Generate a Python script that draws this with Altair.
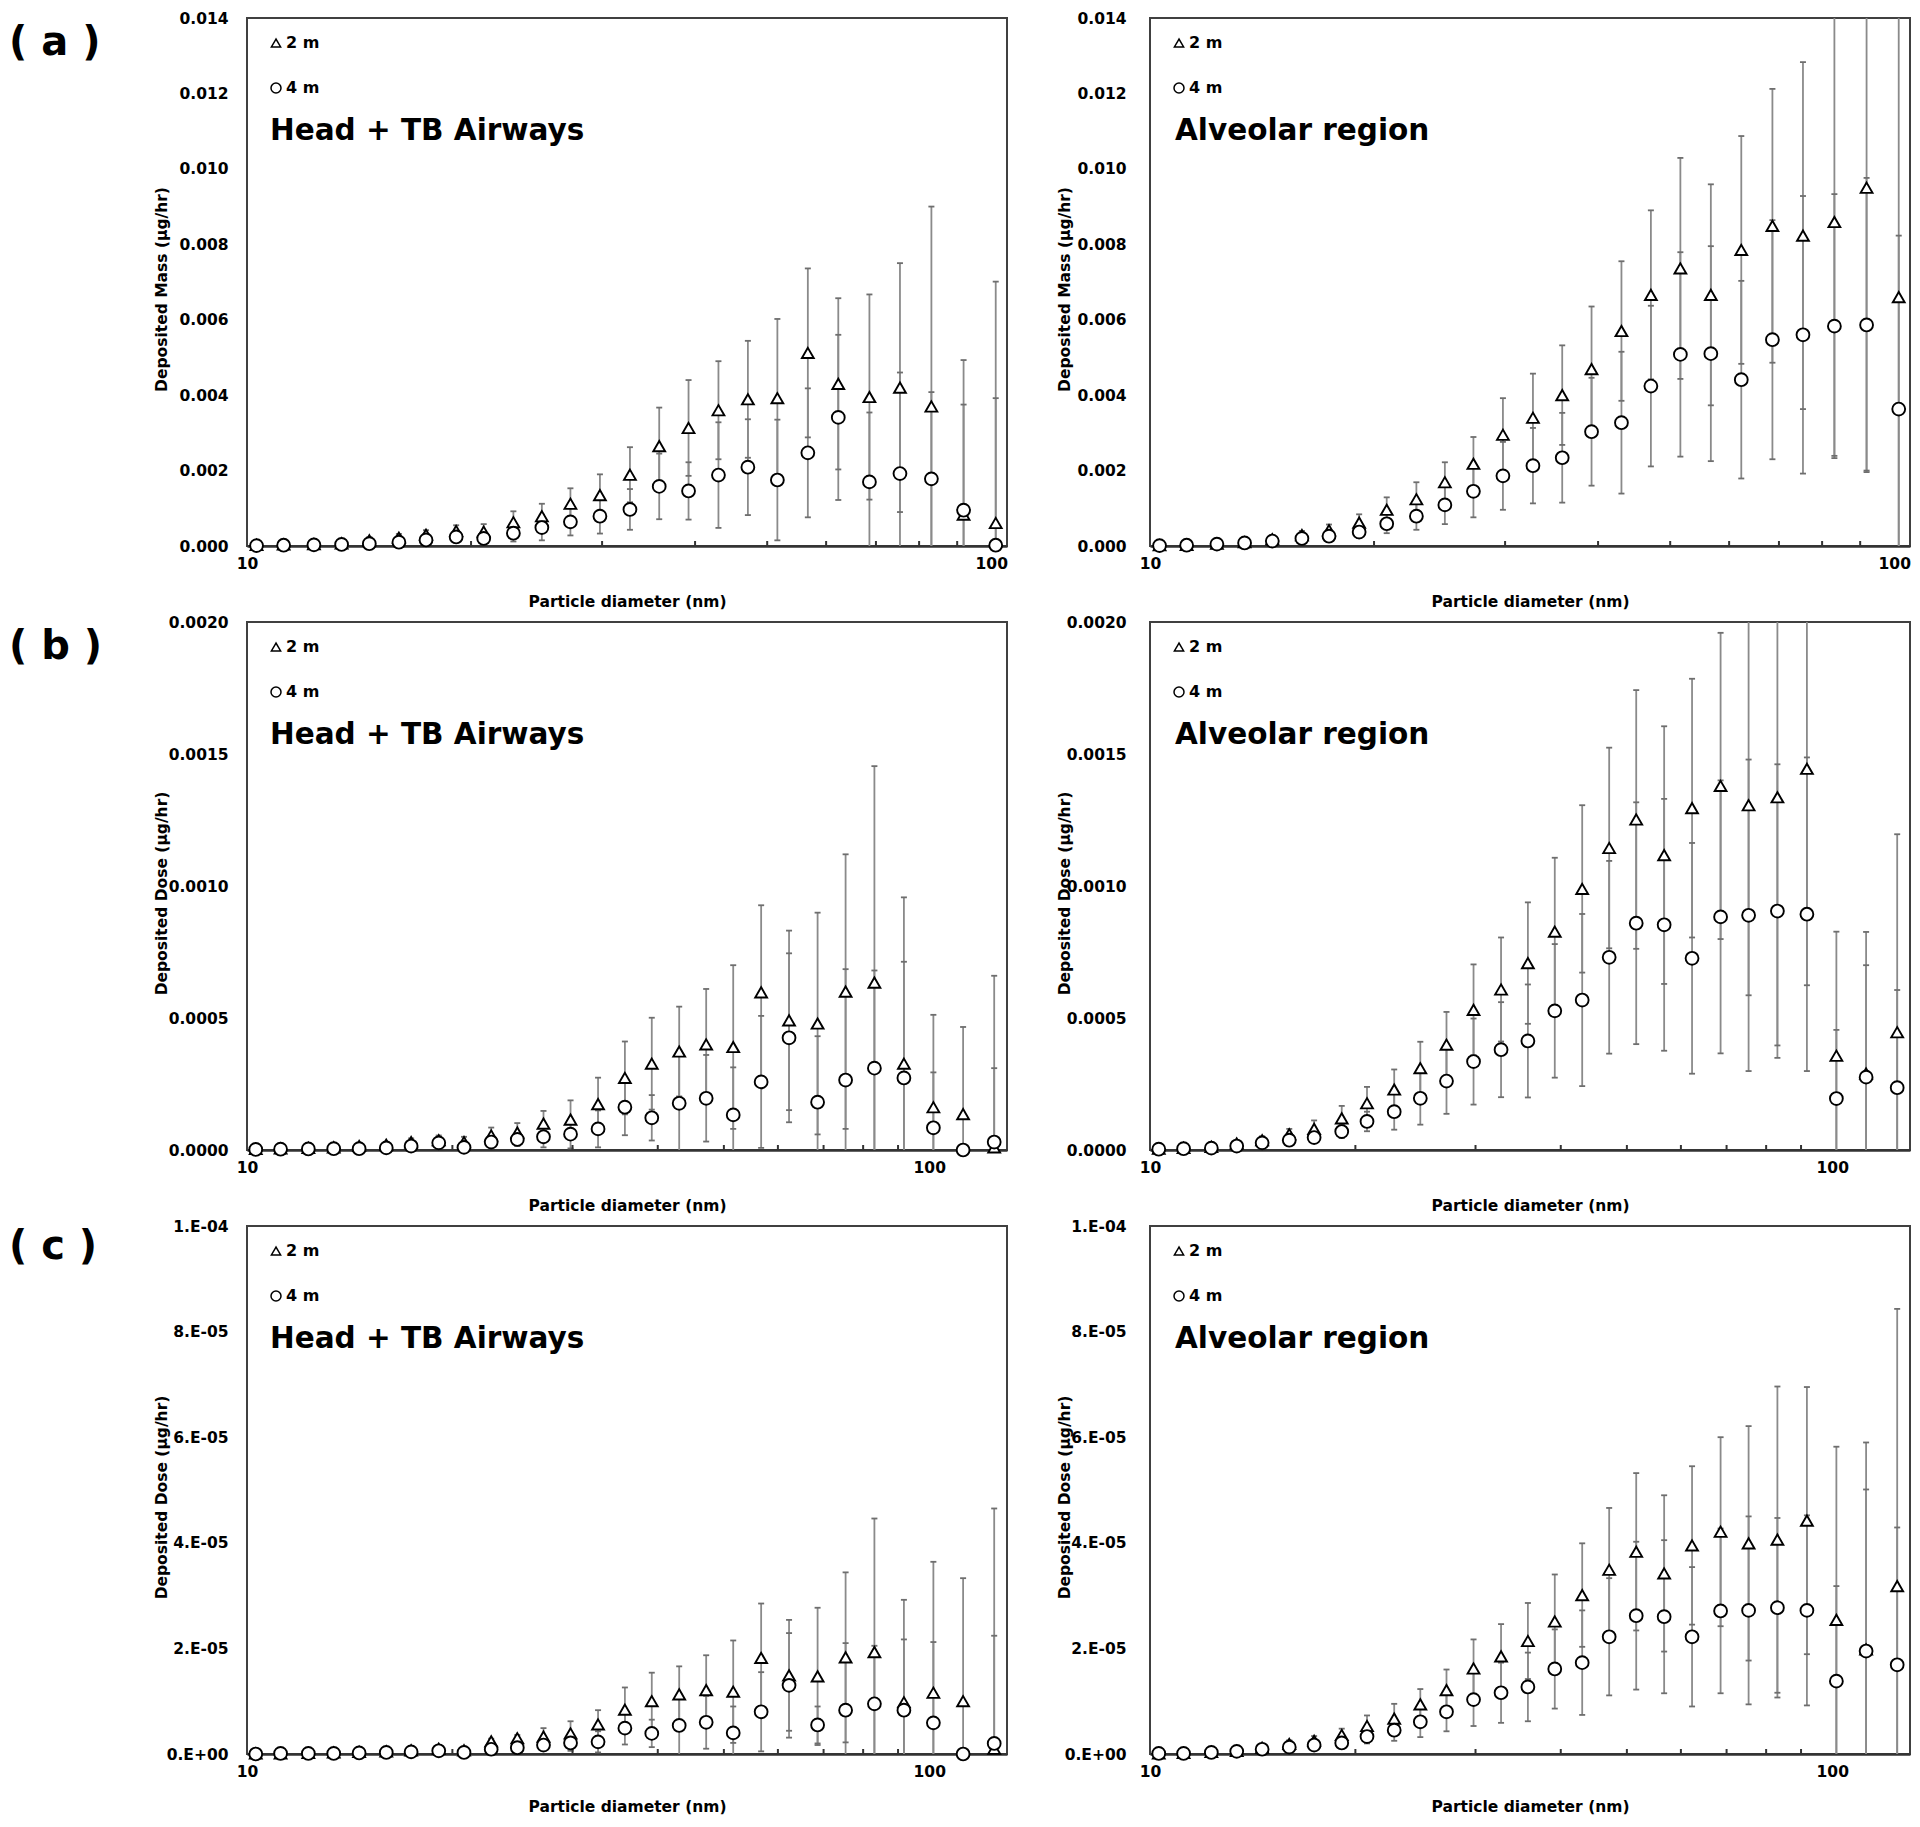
import json
import altair as alt
import pandas as pd

# ---------------- data ----------------
DIAM = [10.3, 11.2, 12.3, 13.4, 14.6, 16.0, 17.4, 19.1, 20.8, 22.8, 24.9, 27.2, 29.8, 32.7,
        35.8, 39.2, 43.0, 47.1, 51.6, 56.7, 62.3, 68.6, 75.4, 83.1, 91.8, 101.4, 112.1, 124.5]

SERIES = ["2 m", "4 m"]
REGIONS = ["Head + TB Airways", "Alveolar region"]
ROW_LETTERS = ["( a )", "( b )", "( c )"]
Y_TITLES = ["Deposited Mass (µg/hr)", "Deposited Dose (µg/hr)", "Deposited Dose (µg/hr)"]
X_TITLE = "Particle diameter (nm)"
X_TICKS = [10, 100]
X_MINOR = [20, 30, 40, 50, 60, 70, 80, 90]
X_MAX = [105, 130, 130]
UNITS = [1e-3, 1e-4, 1e-5]
Y_LABELS = [
    ["0.000", "0.002", "0.004", "0.006", "0.008", "0.010", "0.012", "0.014"],
    ["0.0000", "0.0005", "0.0010", "0.0015", "0.0020"],
    ["0.E+00", "2.E-05", "4.E-05", "6.E-05", "8.E-05", "1.E-04"],
]

# (a) deposited mass, units of 1e-3 ug/hr
A_HTB_2M = [0.03, 0.04, 0.05, 0.07, 0.15, 0.22, 0.30, 0.40, 0.38, 0.63, 0.79, 1.12, 1.35, 1.89, 2.65,
            3.13, 3.60, 3.89, 3.92, 5.12, 4.30, 3.95, 4.20, 3.70, 0.83, 0.61]
A_HTB_2M_SD = [0.02, 0.03, 0.03, 0.05, 0.08, 0.10, 0.12, 0.15, 0.20, 0.29, 0.33, 0.41, 0.55, 0.73, 1.02,
               1.27, 1.30, 1.55, 2.10, 2.24, 2.27, 2.72, 3.30, 5.30, 4.10, 6.40]
A_HTB_4M = [0.01, 0.02, 0.03, 0.04, 0.06, 0.10, 0.16, 0.24, 0.20, 0.34, 0.49, 0.64, 0.79, 0.97, 1.58,
            1.46, 1.88, 2.09, 1.75, 2.47, 3.41, 1.70, 1.92, 1.78, 0.95, 0.02]
A_HTB_4M_SD = [0.01, 0.01, 0.02, 0.03, 0.04, 0.06, 0.08, 0.10, 0.13, 0.22, 0.34, 0.36, 0.46, 0.54, 0.87,
               0.76, 1.40, 1.27, 1.60, 1.71, 2.19, 1.84, 2.68, 2.30, 2.80, 3.90]
A_ALV_2M = [0.02, 0.03, 0.06, 0.10, 0.18, 0.29, 0.42, 0.62, 0.96, 1.24, 1.69, 2.18, 2.95, 3.40, 4.00,
            4.69, 5.70, 6.66, 7.36, 6.66, 7.85, 8.49, 8.23, 8.59, 9.50, 6.60]
A_ALV_2M_SD = [0.01, 0.02, 0.03, 0.05, 0.08, 0.11, 0.15, 0.22, 0.33, 0.45, 0.53, 0.71, 0.97, 1.17, 1.32,
               1.66, 1.85, 2.24, 2.93, 2.93, 3.02, 3.63, 4.60, 6.20, 7.50, 8.50]
A_ALV_4M = [0.01, 0.02, 0.05, 0.08, 0.13, 0.20, 0.26, 0.37, 0.59, 0.79, 1.09, 1.45, 1.86, 2.13, 2.34,
            3.03, 3.27, 4.24, 5.08, 5.10, 4.41, 5.47, 5.60, 5.83, 5.86, 3.63]
A_ALV_4M_SD = [0.01, 0.01, 0.02, 0.04, 0.06, 0.08, 0.10, 0.16, 0.25, 0.36, 0.51, 0.69, 0.90, 1.00, 1.19,
               1.43, 1.88, 2.13, 2.71, 2.85, 2.62, 3.17, 3.68, 3.50, 3.90, 4.60]

# (b) deposited dose, units of 1e-4 ug/hr
B_HTB_2M = [0.04, 0.06, 0.08, 0.10, 0.15, 0.20, 0.30, 0.37, 0.30, 0.55, 0.66, 1.00, 1.15, 1.74, 2.73,
            3.27, 3.73, 4.00, 3.90, 5.97, 4.91, 4.79, 6.00, 6.34, 3.27, 1.62, 1.36, 0.10]
B_HTB_2M_SD = [0.03, 0.04, 0.05, 0.06, 0.08, 0.10, 0.14, 0.18, 0.20, 0.30, 0.36, 0.48, 0.73, 1.00, 1.38,
               1.74, 1.70, 2.10, 3.10, 3.30, 3.40, 4.20, 5.20, 8.20, 6.30, 3.50, 3.30, 6.50]
B_HTB_4M = [0.02, 0.03, 0.04, 0.05, 0.05, 0.08, 0.15, 0.27, 0.10, 0.30, 0.40, 0.50, 0.60, 0.80, 1.62,
            1.22, 1.77, 1.96, 1.33, 2.58, 4.25, 1.81, 2.65, 3.10, 2.73, 0.84, 0.00, 0.30]
B_HTB_4M_SD = [0.02, 0.02, 0.03, 0.03, 0.04, 0.05, 0.08, 0.10, 0.10, 0.20, 0.25, 0.40, 0.54, 0.70, 1.06,
               0.86, 2.00, 1.64, 1.80, 2.50, 3.20, 2.50, 4.20, 3.70, 4.40, 2.10, 0.00, 2.80]
B_ALV_2M = [0.05, 0.08, 0.12, 0.25, 0.37, 0.60, 0.80, 1.20, 1.77, 2.29, 3.10, 3.99, 5.31, 6.08, 7.08,
            8.27, 9.89, 11.44, 12.52, 11.17, 12.95, 13.79, 13.06, 13.36, 14.44, 3.57, 2.90, 4.46]
B_ALV_2M_SD = [0.03, 0.04, 0.06, 0.10, 0.15, 0.20, 0.32, 0.47, 0.62, 0.76, 1.00, 1.24, 1.72, 1.97, 2.30,
               2.80, 3.17, 3.80, 4.90, 4.88, 4.90, 5.80, 7.20, 9.40, 8.20, 4.70, 4.10, 7.50]
B_ALV_4M = [0.03, 0.05, 0.07, 0.15, 0.27, 0.37, 0.47, 0.70, 1.08, 1.45, 1.96, 2.61, 3.35, 3.80, 4.13,
            5.27, 5.68, 7.30, 8.59, 8.53, 7.26, 8.83, 8.89, 9.05, 8.93, 1.95, 2.76, 2.36]
B_ALV_4M_SD = [0.02, 0.03, 0.04, 0.07, 0.10, 0.15, 0.20, 0.25, 0.37, 0.68, 1.00, 1.24, 1.63, 1.80, 2.14,
               2.53, 3.26, 3.65, 4.58, 4.77, 4.37, 5.17, 5.90, 5.56, 5.94, 2.60, 5.50, 3.70]

# (c) deposited dose, units of 1e-5 ug/hr
C_HTB_2M = [0.01, 0.01, 0.02, 0.03, 0.04, 0.05, 0.07, 0.10, 0.07, 0.24, 0.30, 0.33, 0.39, 0.56, 0.84,
            1.00, 1.13, 1.21, 1.18, 1.82, 1.49, 1.47, 1.83, 1.93, 0.98, 1.16, 1.00, 0.10]
C_HTB_2M_SD = [0.01, 0.01, 0.01, 0.02, 0.02, 0.03, 0.04, 0.05, 0.05, 0.05, 0.06, 0.16, 0.23, 0.27, 0.42,
               0.54, 0.53, 0.66, 0.97, 1.03, 1.05, 1.30, 1.61, 2.53, 1.94, 2.48, 2.33, 4.55]
C_HTB_4M = [0.00, 0.01, 0.01, 0.01, 0.02, 0.03, 0.04, 0.06, 0.03, 0.09, 0.12, 0.17, 0.21, 0.23, 0.49,
            0.39, 0.54, 0.60, 0.40, 0.80, 1.30, 0.55, 0.83, 0.95, 0.83, 0.59, 0.00, 0.20]
C_HTB_4M_SD = [0.00, 0.01, 0.01, 0.01, 0.01, 0.02, 0.02, 0.03, 0.03, 0.05, 0.06, 0.10, 0.15, 0.20, 0.31,
               0.26, 0.60, 0.50, 0.50, 0.75, 0.99, 0.35, 1.27, 1.10, 1.34, 1.53, 0.00, 2.04]
C_ALV_2M = [0.01, 0.02, 0.04, 0.06, 0.12, 0.19, 0.25, 0.36, 0.53, 0.67, 0.94, 1.21, 1.62, 1.85, 2.14,
            2.51, 3.01, 3.49, 3.83, 3.42, 3.95, 4.21, 3.99, 4.06, 4.42, 2.54, 1.98, 3.18]
C_ALV_2M_SD = [0.01, 0.01, 0.02, 0.03, 0.05, 0.07, 0.09, 0.12, 0.20, 0.28, 0.29, 0.39, 0.55, 0.61, 0.72,
               0.89, 0.98, 1.17, 1.49, 1.48, 1.50, 1.79, 2.22, 2.90, 2.53, 3.28, 3.92, 5.25]
C_ALV_4M = [0.01, 0.01, 0.03, 0.05, 0.09, 0.13, 0.17, 0.21, 0.33, 0.45, 0.61, 0.80, 1.03, 1.16, 1.27,
            1.61, 1.73, 2.22, 2.62, 2.60, 2.22, 2.71, 2.72, 2.77, 2.72, 1.38, 1.95, 1.69]
C_ALV_4M_SD = [0.01, 0.01, 0.01, 0.02, 0.03, 0.05, 0.07, 0.09, 0.13, 0.20, 0.29, 0.37, 0.50, 0.57, 0.65,
               0.75, 0.99, 1.11, 1.40, 1.45, 1.32, 1.56, 1.78, 1.70, 1.80, 1.80, 3.06, 2.60]

PANELS = [
    [(A_HTB_2M, A_HTB_2M_SD, A_HTB_4M, A_HTB_4M_SD), (A_ALV_2M, A_ALV_2M_SD, A_ALV_4M, A_ALV_4M_SD)],
    [(B_HTB_2M, B_HTB_2M_SD, B_HTB_4M, B_HTB_4M_SD), (B_ALV_2M, B_ALV_2M_SD, B_ALV_4M, B_ALV_4M_SD)],
    [(C_HTB_2M, C_HTB_2M_SD, C_HTB_4M, C_HTB_4M_SD), (C_ALV_2M, C_ALV_2M_SD, C_ALV_4M, C_ALV_4M_SD)],
]

# ---------------- style / layout ----------------
W, H = 760, 528
COL_GAP, ROW_GAP = 143, 76
FONT = "DejaVu Sans"
BAR = "#8a8a8a"
CAP = "#6e6e6e"
X_TITLE_Y = [55, 55, 52]


def make_panel(r, c):
    tri, tri_sd, cir, cir_sd = PANELS[r][c]
    unit = UNITS[r]
    n = len(tri)
    recs = []
    for s, vals, sds in ((SERIES[0], tri, tri_sd), (SERIES[1], cir, cir_sd)):
        for x, v, e in zip(DIAM[:n], vals, sds):
            recs.append({"d": x, "series": s, "v": v * unit,
                         "lo": (v - e) * unit, "hi": (v + e) * unit})
    df = pd.DataFrame(recs)

    labels = Y_LABELS[r]
    ticks = [float(s) for s in labels]
    step = ticks[1]
    xsc = alt.Scale(type="log", domain=[10, X_MAX[r]], nice=False)
    ysc = alt.Scale(domain=[0, ticks[-1]], nice=False, zero=True)

    xaxis = alt.Axis(values=X_TICKS, format="d", title=X_TITLE, grid=False, ticks=False, tickSize=0,
                     domain=True, domainColor="#333333", domainWidth=2.5,
                     labelFont=FONT, labelFontSize=15.5, labelFontWeight="bold", labelColor="black",
                     labelPadding=10, labelFlush=False, labelOverlap=False,
                     titleFont=FONT, titleFontSize=15.5, titleFontWeight="bold", titleColor="black",
                     titleX=W / 2, titleY=X_TITLE_Y[r], titleBaseline="middle")
    yaxis = alt.Axis(values=ticks, labelExpr=f"{json.dumps(labels)}[round(datum.value / {step})]",
                     title=Y_TITLES[r], grid=False, ticks=False, tickSize=0, domain=False,
                     labelFont=FONT, labelFontSize=15.5, labelFontWeight="bold", labelColor="black",
                     labelPadding=19 if c == 0 else 24, labelFlush=False, labelOverlap=False,
                     titleFont=FONT, titleFontSize=15.5, titleFontWeight="bold", titleColor="black",
                     titleX=-86, titleY=H / 2 + 7, titleBaseline="middle")

    base = alt.Chart(df)
    bars = base.mark_rule(color=BAR, strokeWidth=1.8, clip=True).encode(
        x=alt.X("d:Q", scale=xsc, axis=xaxis),
        y=alt.Y("lo:Q", scale=ysc, axis=yaxis),
        y2="hi:Q",
    )
    cap_lo = base.mark_tick(orient="horizontal", size=6, thickness=1.8, color=CAP, clip=True,
                            opacity=1).encode(x="d:Q", y="lo:Q")
    cap_hi = base.mark_tick(orient="horizontal", size=6, thickness=1.8, color=CAP, clip=True,
                            opacity=1).encode(x="d:Q", y="hi:Q")
    minor = alt.Chart(pd.DataFrame({"d": X_MINOR})).mark_rule(color="#333333", strokeWidth=2).encode(
        x="d:Q", y=alt.value(H), y2=alt.value(H - 5))
    m2 = base.transform_filter(alt.datum.series == SERIES[0]).mark_point(
        shape="triangle-up", filled=True, fill="white", stroke="black", strokeWidth=1.9,
        size=140, opacity=1).encode(x="d:Q", y="v:Q")
    m4 = base.transform_filter(alt.datum.series == SERIES[1]).mark_point(
        shape="circle", filled=True, fill="white", stroke="black", strokeWidth=1.9,
        size=165, opacity=1).encode(x="d:Q", y="v:Q")

    layers = [bars, cap_lo, cap_hi, minor, m2, m4]

    # in-plot legend
    for k, (s, shp, sz, yy) in enumerate(((SERIES[0], "triangle-up", 85, 25),
                                          (SERIES[1], "circle", 100, 70))):
        ld = pd.DataFrame({"label": [s]})
        layers.append(alt.Chart(ld).mark_point(shape=shp, filled=True, fill="white", stroke="black",
                                               strokeWidth=1.5, size=sz, opacity=1).encode(
            x=alt.value(29), y=alt.value(yy)))
        layers.append(alt.Chart(ld).mark_text(align="left", baseline="middle", font=FONT, fontSize=16,
                                              fontWeight="bold", color="black").encode(
            x=alt.value(39), y=alt.value(yy), text="label:N"))

    # region label
    layers.append(alt.Chart(pd.DataFrame({"t": [REGIONS[c]]})).mark_text(
        align="left", baseline="alphabetic", font=FONT, fontSize=29.5, fontWeight="bold",
        color="black").encode(x=alt.value(23 if c == 0 else 25), y=alt.value(122), text="t:N"))

    # row letter
    if c == 0:
        layers.append(alt.Chart(pd.DataFrame({"t": [ROW_LETTERS[r]]})).mark_text(
            align="left", baseline="top", font=FONT, fontSize=40, fontWeight="bold",
            color="black").encode(x=alt.value(-238), y=alt.value(5 if r < 2 else 1), text="t:N"))

    return alt.layer(*layers).properties(width=W, height=H)


panels = [make_panel(r, c) for r in range(3) for c in range(2)]

chart = alt.concat(*panels, columns=2, spacing={"row": ROW_GAP, "column": COL_GAP},
                   bounds="flush").resolve_scale(
    x="independent", y="independent"
).properties(
    padding={"left": 0, "top": 2, "right": 0, "bottom": 0},
    background="white",
).configure_view(stroke="#404040", strokeWidth=2)

chart.save("out.html", embed_options={"renderer": "svg", "actions": False})
